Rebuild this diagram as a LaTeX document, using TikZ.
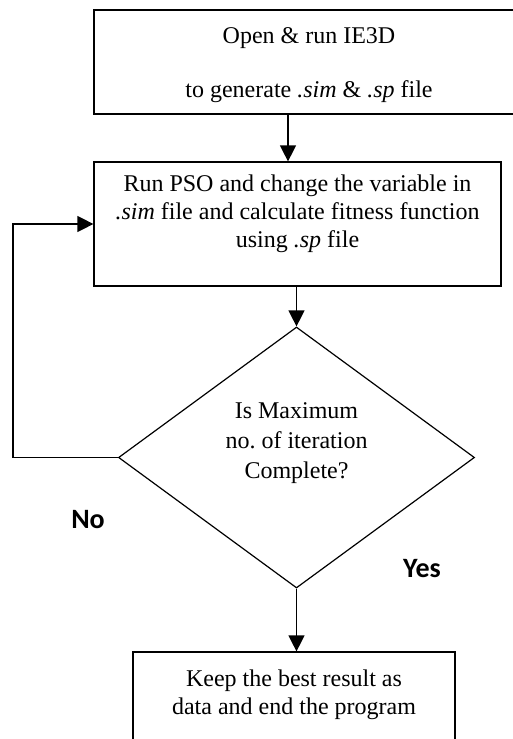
\documentclass[tikz,border=0pt]{standalone}
\usepackage{fontspec}
\setmainfont{Liberation Serif}
\newfontfamily\labelfont{Carlito}
\usetikzlibrary{shapes.geometric,arrows.meta}
\frenchspacing

\begin{document}
\begin{tikzpicture}
[x=0.5pt,y=-0.5pt,
  lineDecorate/.style={-{Triangle[length=8pt,width=8pt]},line width=0.6pt},%
  boxDecorate/.style={shape=rectangle,draw,line width=0.6pt,align=center,inner sep=0pt},%
  decisionDecorate/.style={shape=diamond,draw,line width=0.6pt,align=center,inner sep=0pt,aspect=1.36,%
    minimum width=178pt,minimum height=130.5pt,font=\fontsize{12}{15}\selectfont},%
  labelDecorate/.style={font=\labelfont\bfseries\fontsize{14}{17}\selectfont}]
\fontsize{12}{13.8}\selectfont
\path[use as bounding box,clip] (0,0) rectangle (513,739);
%% boxes and decision
\node (open) at (309,62) [boxDecorate,line width=1pt,minimum width=215pt,text height=43.5pt,text depth=8.5pt]
  {Open \& run IE3D\\[13.2pt]to generate \textit{.sim} \& \textit{.sp} file};
\node (runpso) at (297.5,224) [boxDecorate,minimum width=203.5pt,text height=42.5pt,text depth=19.5pt]
  {Run PSO and change the variable in\\\textit{.sim} file and calculate fitness function\\using \textit{.sp} file};
\node (test) at (296.5,457.5) [decisionDecorate,text height=40pt,text depth=19.5pt]
  {Is Maximum\\no. of iteration\\Complete?};
\node (keep) at (294,700) [boxDecorate,minimum width=161pt,text height=31pt,text depth=17pt]
  {Keep the best result as\\data and end the program};
%% labels
\node (no) at (88,520) [labelDecorate] {No};
\node (yes) at (422,569) [labelDecorate] {Yes};
%% arrows
\draw[lineDecorate] (open.south -| 288,0) -- (288,0 |- runpso.north);
\draw[lineDecorate] (runpso.south -| test.north) -- (test.north);
\draw[lineDecorate] (test.south) -- (test.south |- keep.north);
\draw[lineDecorate] (test.west) -- (13,457.5) |- (runpso.west);
\end{tikzpicture}
\end{document}
